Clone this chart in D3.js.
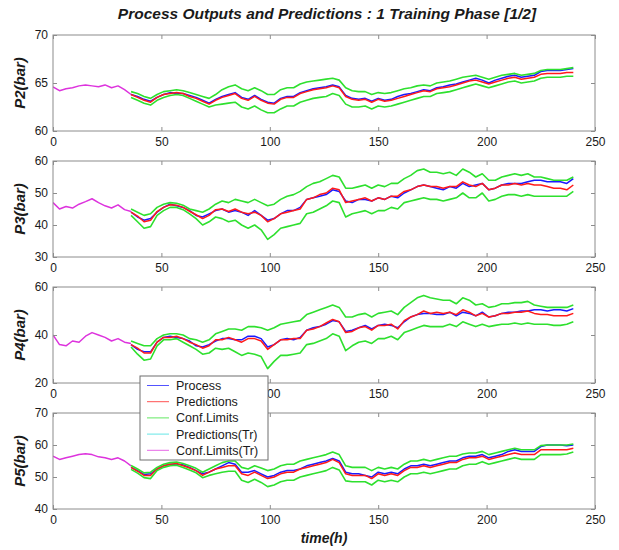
<!DOCTYPE html>
<html>
<head>
<meta charset="utf-8">
<script src="https://cdn.jsdelivr.net/npm/d3@7"></script>
<style>
  body { margin: 0; background: #fff; }
  svg { display: block; font-family: "Liberation Sans", Arial, sans-serif; }
</style>
</head>
<body>
<svg id="chart" width="619" height="550"></svg>
<script>
// ---- text ----
const chartTitle = "Process Outputs and Predictions : 1 Training Phase [1/2]";
const xAxisLabel = "time(h)";
const xTicks = [0, 50, 100, 150, 200, 250];
const legendLabels = ["Process", "Predictions", "Conf.Limits", "Predictions(Tr)", "Conf.Limits(Tr)"];

// ---- sampling of the recorded series (hours) ----
const trainStartHour = 0;   // training segment: 0 .. 36 h
const testStartHour = 36;   // test segment: 36 .. 240 h
const sampleStep = 3;

// ---- P2 ----
const p2Train = [64.6,64.2,64.4,64.5,64.7,64.8,64.7,64.6,64.8,64.5,64.7,64.3,63.8];
const p2Process = [
  63.8,63.6,63.3,63.1,63.5,63.8,64.0,63.9,63.9,63.7,63.5,63.2,
  62.9,63.3,63.6,63.8,64.0,63.5,63.3,63.7,63.3,63.0,62.9,63.4,
  63.6,63.6,64.0,64.2,64.4,64.5,64.6,64.8,64.6,63.7,63.4,63.3,
  63.4,63.1,63.4,63.2,63.3,63.6,63.8,63.9,64.1,64.3,64.2,64.5,
  64.6,64.8,64.9,65.1,65.3,65.5,65.3,65.0,65.3,65.5,65.7,65.8,
  65.6,65.7,65.8,66.2,66.3,66.3,66.3,66.4,66.5];
const p2Pred = [
  63.8,63.5,63.2,63.0,63.5,63.8,63.9,64.0,63.9,63.6,63.4,63.1,
  62.8,63.2,63.5,63.7,63.9,63.4,63.2,63.6,63.2,62.9,62.8,63.3,
  63.5,63.5,63.9,64.1,64.3,64.4,64.5,64.7,64.5,63.6,63.3,63.2,
  63.3,63.0,63.3,63.1,63.2,63.4,63.6,63.8,64.0,64.2,64.1,64.4,
  64.5,64.6,64.8,65.0,65.2,65.3,65.1,64.9,65.1,65.3,65.5,65.6,
  65.4,65.5,65.6,65.9,66.0,66.0,66.0,66.1,66.1];
const p2Upper = [
  64.1,63.9,63.6,63.4,63.8,64.1,64.2,64.3,64.2,64.0,63.8,63.6,
  63.4,63.8,64.3,64.6,64.8,64.4,64.2,64.5,64.2,63.8,63.8,64.3,
  64.5,64.5,64.9,65.1,65.2,65.3,65.4,65.5,65.3,64.5,64.2,64.1,
  64.1,63.8,64.0,63.9,64.0,64.2,64.4,64.5,64.7,64.8,64.7,65.0,
  65.1,65.2,65.4,65.6,65.7,65.8,65.6,65.4,65.6,65.8,65.9,66.0,
  65.8,65.9,66.0,66.3,66.4,66.4,66.4,66.5,66.6];
const p2Lower = [
  63.5,63.2,62.9,62.7,63.2,63.5,63.7,63.8,63.7,63.4,63.1,62.8,
  62.5,62.7,62.8,62.9,63.0,62.5,62.3,62.6,62.2,61.9,61.9,62.3,
  62.6,62.6,63.0,63.2,63.4,63.5,63.6,63.9,63.7,62.8,62.5,62.5,
  62.6,62.3,62.6,62.5,62.6,62.8,63.0,63.2,63.4,63.6,63.6,63.9,
  64.0,64.1,64.3,64.5,64.7,64.9,64.7,64.5,64.7,64.9,65.1,65.2,
  65.0,65.1,65.2,65.5,65.6,65.6,65.6,65.7,65.7];

// ---- P3 ----
const p3Train = [47.0,45.0,45.8,45.3,46.5,47.3,48.2,47.0,46.0,45.3,46.3,44.8,44.2];
const p3Process = [
  44.0,42.5,41.5,42.0,44.0,45.5,46.5,46.0,45.5,44.5,43.0,42.5,
  43.5,44.5,45.0,44.0,44.5,44.0,43.0,44.5,43.0,41.5,42.0,43.5,
  44.5,44.5,45.5,48.0,48.5,49.0,49.5,51.0,50.5,47.5,47.0,48.0,
  48.0,47.5,48.5,48.0,49.0,48.5,50.0,51.0,52.0,52.5,52.0,51.5,
  51.0,52.0,51.5,53.0,52.0,52.5,53.0,51.0,51.5,52.5,53.0,53.0,
  53.0,53.5,54.0,54.0,53.5,53.5,53.5,53.0,54.5];
const p3Pred = [
  44.0,42.8,41.0,41.5,44.2,45.5,46.3,46.2,45.5,44.3,43.2,42.0,
  43.0,44.8,45.0,44.2,45.0,44.0,43.5,44.0,43.0,41.0,42.0,43.5,
  44.0,44.5,45.0,48.0,48.5,49.5,50.0,51.5,51.0,47.0,47.5,48.0,
  48.5,47.5,48.5,48.0,49.0,49.0,50.5,51.0,52.0,52.5,52.0,52.0,
  51.5,52.0,52.0,53.5,52.5,52.0,53.0,51.0,51.5,52.5,52.5,53.0,
  52.5,53.0,52.5,52.5,52.0,51.5,51.5,51.0,52.5];
const p3Upper = [
  45.0,44.0,43.0,43.5,45.5,46.5,47.0,46.8,46.2,45.0,44.5,44.0,
  45.0,46.5,47.5,47.0,48.0,47.5,47.0,48.0,47.0,46.0,46.5,48.0,
  49.0,49.5,50.5,52.0,53.0,53.5,54.5,55.5,55.0,51.5,51.5,52.0,
  52.5,51.5,52.5,52.0,53.0,53.0,54.5,55.5,57.0,57.5,56.5,56.5,
  56.0,56.5,55.5,57.5,56.5,55.0,56.0,54.0,54.0,55.0,55.5,56.0,
  55.5,56.0,55.0,55.0,54.5,54.0,54.0,54.0,55.0];
const p3Lower = [
  43.0,41.0,39.0,39.5,43.0,44.5,45.5,45.5,44.8,43.5,42.0,40.0,
  41.0,42.5,42.0,41.0,41.5,40.0,39.0,40.0,38.5,35.5,37.0,39.0,
  39.5,40.0,40.5,43.5,44.0,45.0,46.0,47.5,47.0,42.5,43.5,44.0,
  44.5,43.5,44.5,44.5,45.5,45.0,47.0,47.5,48.0,48.5,48.0,48.0,
  47.5,48.0,48.5,50.0,48.5,48.5,50.0,47.5,48.0,49.0,49.5,49.5,
  49.0,49.5,49.0,49.0,49.0,49.0,49.0,49.0,50.5];

// ---- P4 ----
const p4Train = [40.0,36.0,35.5,37.5,37.0,39.5,41.0,40.0,39.0,37.5,38.5,37.0,36.5];
const p4Process = [
  36.0,34.0,33.0,33.0,37.0,39.0,39.5,39.0,38.5,37.5,35.5,35.0,
  36.0,37.5,38.5,38.5,38.0,38.0,39.5,39.5,38.5,35.0,36.0,38.0,
  38.5,38.0,39.0,42.0,43.0,43.5,44.5,46.0,45.5,41.5,42.0,43.0,
  44.0,42.5,44.0,44.5,44.0,43.0,45.5,47.5,48.5,49.0,49.0,48.5,
  48.5,49.5,48.0,49.5,49.0,48.0,49.5,47.5,48.0,49.0,49.5,49.5,
  50.0,50.0,50.5,50.5,50.0,50.5,50.5,50.0,51.0];
const p4Pred = [
  36.0,34.5,32.5,32.5,37.0,39.0,39.0,39.5,38.5,37.0,36.0,34.5,
  35.5,38.0,38.0,39.0,38.0,37.0,38.5,38.5,37.5,34.0,36.0,38.0,
  38.0,38.5,38.5,42.0,42.5,43.5,45.0,46.5,45.5,41.0,41.5,43.0,
  43.5,42.0,44.0,44.0,44.5,42.5,46.0,47.5,48.5,50.0,49.0,49.5,
  49.0,49.5,48.5,50.5,49.5,48.0,49.0,47.5,48.0,49.0,49.0,49.5,
  49.5,50.0,49.0,48.5,48.5,48.0,48.0,48.0,49.0];
const p4Upper = [
  37.5,36.5,35.5,35.5,38.5,40.0,40.5,40.5,40.0,38.5,38.0,37.0,
  38.0,40.5,41.5,42.5,42.5,42.0,43.5,43.5,43.0,42.0,43.0,44.5,
  45.0,45.5,46.0,48.5,49.5,50.5,51.5,52.5,51.5,47.5,47.5,48.5,
  49.0,47.5,49.0,49.5,50.0,48.5,51.5,53.5,55.5,56.5,55.5,55.0,
  54.5,54.5,53.0,55.5,54.5,52.5,53.0,51.5,52.0,53.0,53.0,53.5,
  53.5,54.0,52.5,52.0,51.5,51.5,51.5,51.5,52.5];
const p4Lower = [
  35.0,32.0,29.5,30.0,35.5,38.0,38.0,38.5,37.0,35.5,34.0,32.0,
  32.5,34.5,34.0,34.5,33.0,31.5,32.5,32.0,31.0,26.0,29.0,31.5,
  31.5,32.0,32.5,36.0,36.5,37.5,38.5,40.5,39.5,33.5,35.5,37.0,
  37.5,36.5,38.5,38.5,39.5,38.0,41.0,42.0,43.0,44.0,43.5,43.5,
  43.5,44.5,43.5,45.5,44.5,43.5,44.5,43.5,44.0,44.5,44.5,45.0,
  44.5,45.0,44.5,44.5,44.5,44.0,44.0,44.5,45.5];

// ---- P5 ----
const p5Train = [56.5,55.5,56.0,56.5,57.0,57.3,57.0,56.3,56.0,55.5,56.0,55.0,53.5];
const p5Process = [
  53.0,52.0,50.8,51.0,52.5,53.5,54.0,54.0,53.8,53.0,52.0,51.0,
  51.5,52.5,53.5,54.5,54.0,51.5,51.5,52.0,51.0,50.0,50.5,51.5,
  52.0,52.0,52.5,53.5,54.0,54.5,55.0,55.8,55.0,51.5,51.0,51.0,
  50.5,50.0,51.5,51.0,51.5,51.0,52.5,53.5,53.5,54.0,53.5,54.0,
  54.5,55.0,55.0,56.0,56.5,56.5,57.0,56.0,56.5,57.0,58.0,58.5,
  58.0,58.0,58.0,59.5,60.0,60.0,60.0,59.8,60.0];
const p5Pred = [
  53.0,51.8,50.5,50.5,52.5,53.5,54.0,54.2,53.5,52.8,52.0,50.5,
  51.5,52.5,53.0,53.5,53.5,51.0,50.5,51.5,50.5,49.5,50.0,51.0,
  51.5,51.5,52.5,53.0,53.5,54.0,54.5,55.5,54.5,51.0,50.5,50.5,
  50.5,49.5,51.0,50.5,51.0,50.5,52.0,53.0,53.0,53.5,53.0,53.5,
  54.0,54.5,54.5,55.5,56.0,56.0,56.5,55.5,56.0,56.5,57.0,57.5,
  57.0,57.0,57.0,58.5,58.5,58.5,58.5,58.5,59.0];
const p5Upper = [
  53.6,52.5,51.3,51.5,53.0,54.0,54.5,54.7,54.2,53.5,52.7,51.5,
  52.5,53.5,54.5,55.0,55.0,53.0,52.5,53.5,52.8,52.0,52.5,53.5,
  54.0,54.0,55.0,55.5,56.0,56.5,57.0,57.8,57.0,53.5,53.0,53.0,
  53.0,52.0,53.0,52.5,53.0,52.5,54.0,55.0,55.0,55.5,55.0,55.5,
  56.0,56.5,56.5,57.2,57.5,57.5,58.0,57.0,57.5,58.0,58.5,59.0,
  58.5,58.5,58.5,59.8,60.0,60.0,60.0,60.0,60.3];
const p5Lower = [
  52.4,51.2,49.8,49.5,52.0,53.0,53.5,53.7,53.0,52.2,51.3,49.8,
  50.5,51.0,51.5,51.8,51.8,49.0,48.3,49.3,48.3,47.0,47.5,48.5,
  49.0,49.0,50.0,50.5,51.0,51.5,52.0,53.0,52.2,48.8,48.5,48.5,
  48.5,47.5,49.0,48.5,49.0,48.5,50.0,51.0,51.0,51.5,51.0,51.5,
  52.0,52.5,52.5,53.5,54.0,54.0,54.8,54.0,54.5,55.0,55.5,56.0,
  55.5,55.5,55.5,57.0,57.0,57.0,57.0,57.2,57.8];

// ---- panel definitions ----
const panelNames = ["P2(bar)", "P3(bar)", "P4(bar)", "P5(bar)"];
const panelDomains = [[60, 70], [30, 60], [20, 60], [40, 70]];
const panelYTicks = [[60, 65, 70], [30, 40, 50, 60], [20, 40, 60], [40, 50, 60, 70]];

const panels = [
  { train: p2Train, process: p2Process, pred: p2Pred, upper: p2Upper, lower: p2Lower },
  { train: p3Train, process: p3Process, pred: p3Pred, upper: p3Upper, lower: p3Lower },
  { train: p4Train, process: p4Process, pred: p4Pred, upper: p4Upper, lower: p4Lower },
  { train: p5Train, process: p5Process, pred: p5Pred, upper: p5Upper, lower: p5Lower }
].map((p, i) => ({ ...p, name: panelNames[i], domain: panelDomains[i], yTicks: panelYTicks[i] }));

// ---- styling ----
const colors = {
  process: "#1a1aff",
  pred: "#ff1a1a",
  conf: "#2ee02e",
  predTr: "#33dede",
  confTr: "#dd33dd"
};
const legendColors = [colors.process, colors.pred, colors.conf, colors.predTr, colors.confTr];
const frameColor = "#8c8c8c";
const textColor = "#1a1a1a";

const plotLeft = 53, plotRight = 595;
const panelTops = [35, 161, 287, 413];
const panelHeight = 96;
const tickLen = 4;

const svg = d3.select("#chart");

const x = d3.scaleLinear().domain([0, 250]).range([plotLeft, plotRight]);

svg.append("text")
  .attr("x", 327).attr("y", 19)
  .attr("text-anchor", "middle")
  .attr("font-size", 15.5).attr("font-weight", "bold").attr("font-style", "italic")
  .attr("fill", textColor)
  .text(chartTitle);

panels.forEach((p, i) => {
  const top = panelTops[i], bottom = top + panelHeight;
  const y = d3.scaleLinear().domain(p.domain).range([bottom, top]);
  const g = svg.append("g");

  g.append("rect")
    .attr("x", plotLeft).attr("y", top)
    .attr("width", plotRight - plotLeft).attr("height", panelHeight)
    .attr("fill", "#fff");

  const clipId = "clip" + i;
  svg.append("clipPath").attr("id", clipId)
    .append("rect").attr("x", plotLeft).attr("y", top)
    .attr("width", plotRight - plotLeft).attr("height", panelHeight);

  const series = g.append("g").attr("clip-path", `url(#${clipId})`);
  const line = d3.line().x(d => x(d[0])).y(d => y(d[1]));
  const withHours = (arr, start) => arr.map((v, k) => [start + k * sampleStep, v]);

  const drawSeries = (arr, start, color, width) => series.append("path")
    .datum(withHours(arr, start))
    .attr("fill", "none")
    .attr("stroke", color)
    .attr("stroke-width", width)
    .attr("stroke-linejoin", "round")
    .attr("d", line);

  drawSeries(p.train, trainStartHour, colors.confTr, 1.5);
  drawSeries(p.process, testStartHour, colors.process, 1.5);
  drawSeries(p.pred, testStartHour, colors.pred, 1.5);
  drawSeries(p.upper, testStartHour, colors.conf, 1.6);
  drawSeries(p.lower, testStartHour, colors.conf, 1.6);

  // frame
  g.append("rect")
    .attr("x", plotLeft).attr("y", top)
    .attr("width", plotRight - plotLeft).attr("height", panelHeight)
    .attr("fill", "none").attr("stroke", frameColor).attr("stroke-width", 1);

  // x axis: inward ticks on bottom and top, labels below
  const xAxisBottom = d3.axisBottom(x).tickValues(xTicks).tickSize(-tickLen).tickPadding(6).tickFormat(d3.format("d"));
  const gxb = g.append("g").attr("transform", `translate(0,${bottom})`).call(xAxisBottom);
  const xAxisTop = d3.axisTop(x).tickValues(xTicks).tickSize(-tickLen).tickFormat("");
  const gxt = g.append("g").attr("transform", `translate(0,${top})`).call(xAxisTop);

  // y axis: inward ticks on left and right, labels left
  const yAxisLeft = d3.axisLeft(y).tickValues(p.yTicks).tickSize(-tickLen).tickPadding(5).tickFormat(d3.format("d"));
  const gyl = g.append("g").attr("transform", `translate(${plotLeft},0)`).call(yAxisLeft);
  const yAxisRight = d3.axisRight(y).tickValues(p.yTicks).tickSize(-tickLen).tickFormat("");
  const gyr = g.append("g").attr("transform", `translate(${plotRight},0)`).call(yAxisRight);

  [gxb, gxt, gyl, gyr].forEach(ax => {
    ax.select(".domain").remove();
    ax.selectAll(".tick line").attr("stroke", frameColor);
    ax.selectAll(".tick text")
      .attr("fill", textColor)
      .attr("font-size", 12)
      .attr("font-family", "'Liberation Sans', Arial, sans-serif");
  });

  g.append("text")
    .attr("transform", `translate(25,${top + panelHeight / 2}) rotate(-90)`)
    .attr("text-anchor", "middle")
    .attr("font-size", 15).attr("font-weight", "bold").attr("font-style", "italic")
    .attr("fill", textColor)
    .text(p.name);
});

svg.append("text")
  .attr("x", 324).attr("y", 543)
  .attr("text-anchor", "middle")
  .attr("font-size", 14).attr("font-weight", "bold").attr("font-style", "italic")
  .attr("fill", textColor)
  .text(xAxisLabel);

// ---- legend ----
const legend = svg.append("g").attr("transform", "translate(140,376)");
legend.append("rect")
  .attr("width", 128).attr("height", 84)
  .attr("fill", "#fff").attr("stroke", "#6e6e6e").attr("stroke-width", 1);

const rows = legend.selectAll(".row").data(legendLabels).join("g")
  .attr("transform", (d, k) => `translate(0,${9.5 + k * 16.2})`);
rows.append("line")
  .attr("x1", 7).attr("x2", 29)
  .attr("stroke", (d, k) => legendColors[k])
  .attr("stroke-width", 1)
  .attr("stroke-opacity", 0.75);
rows.append("text")
  .attr("x", 36).attr("dy", "0.36em")
  .attr("font-size", 12.5).attr("fill", textColor)
  .text(d => d);
</script>
</body>
</html>
